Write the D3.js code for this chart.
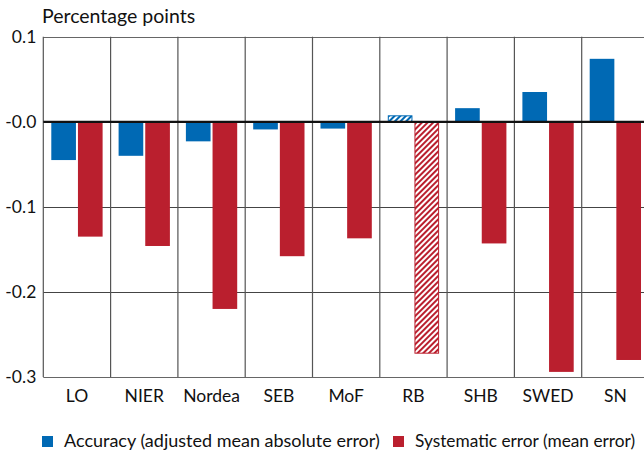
<!DOCTYPE html>
<html><head><meta charset="utf-8">
<script src="https://cdn.jsdelivr.net/npm/d3@7"></script>
<style>
html,body{margin:0;padding:0;background:#fff;}
svg{display:block;font-family:Lato,"Open Sans",sans-serif;}
</style></head>
<body>
<svg id="chart" width="644" height="452"></svg>
<script>
const categories = ["LO","NIER","Nordea","SEB","MoF","RB","SHB","SWED","SN"];
const accuracy = [-0.045,-0.040,-0.023,-0.009,-0.008,0.007,0.016,0.035,0.074];
const systematic = [-0.135,-0.146,-0.220,-0.158,-0.137,-0.272,-0.143,-0.294,-0.280];
const hatched = ["RB"];
const seriesNames = ["Accuracy (adjusted mean absolute error)","Systematic error (mean error)"];
const seriesColors = ["#0069b4","#ba1f2e"];
const yTickValues = [0.1,0,-0.1,-0.2,-0.3];
const yTickLabels = ["0.1","-0.0","-0.1","-0.2","-0.3"];
const yUnit = "Percentage points";

(function(){
const svg = d3.select("#chart");
const pLeft = 43.3, pRight = 649, pTop = 36.7, pBottom = 377;

const x = d3.scaleBand().domain(categories).range([pLeft, pRight]).padding(0);
const keys = ["acc","sys"];
const x1 = d3.scaleBand().domain(keys).range([0, x.bandwidth()]).paddingInner(0.075).paddingOuter(0.3);
const y = d3.scaleLinear().domain([-0.3, 0.1]).range([pBottom, pTop]);

const defs = svg.append("defs");
function hatch(id, color){
  const p = defs.append("pattern").attr("id", id).attr("patternUnits","userSpaceOnUse")
    .attr("width",4).attr("height",4).attr("patternTransform","rotate(45)");
  p.append("rect").attr("width",4).attr("height",4).attr("fill","#fff");
  p.append("rect").attr("width",2).attr("height",4).attr("fill",color);
}
hatch("hb", seriesColors[0]);
hatch("hr", seriesColors[1]);

// horizontal grid
svg.append("g").selectAll("line").data(yTickValues.filter(v => v !== 0))
  .join("line")
  .attr("x1", pLeft).attr("x2", pRight)
  .attr("y1", d => Math.round(y(d)) + 0.5).attr("y2", d => Math.round(y(d)) + 0.5)
  .attr("stroke", d => (d === 0.1 || d === -0.3) ? "#666" : "#444").attr("stroke-width", 1.2);

// vertical separators
svg.append("g").selectAll("line").data(categories)
  .join("line")
  .attr("x1", d => x(d)).attr("x2", d => x(d))
  .attr("y1", pTop).attr("y2", pBottom)
  .attr("stroke", "#555").attr("stroke-width", 1.2);

const data = categories.map((c,i) => ({c, acc: accuracy[i], sys: systematic[i]}));

const g = svg.append("g");
data.forEach(d => {
  keys.forEach((k, j) => {
    const v = d[k];
    const isH = hatched.includes(d.c);
    const y0 = y(Math.max(0, v)), y1v = y(Math.min(0, v));
    g.append("rect")
      .attr("x", x(d.c) + x1(k) + (isH ? 0.5 : 0))
      .attr("y", y0)
      .attr("width", x1.bandwidth() - (isH ? 1 : 0))
      .attr("height", y1v - y0)
      .attr("fill", isH ? (j === 0 ? "url(#hb)" : "url(#hr)") : seriesColors[j])
      .attr("stroke", isH ? seriesColors[j] : "none")
      .attr("stroke-width", isH ? 1 : 0);
  });
});

// zero line
svg.append("line").attr("x1", pLeft).attr("x2", pRight)
  .attr("y1", y(0)).attr("y2", y(0)).attr("stroke", "#111").attr("stroke-width", 2.2);

// y axis labels
const yAxis = d3.axisLeft(y).tickValues(yTickValues)
  .tickFormat((d,i) => yTickLabels[i]).tickSize(0).tickPadding(7);
const ya = svg.append("g").attr("transform", `translate(${pLeft},0)`).call(yAxis);
ya.select(".domain").remove();
ya.selectAll("text").attr("font-family","Lato,sans-serif").attr("font-size",17.5).attr("fill","#111");

// x axis labels
const xAxis = d3.axisBottom(x).tickSize(0).tickPadding(13);
const xa = svg.append("g").attr("transform", `translate(0,${pBottom})`).call(xAxis);
xa.select(".domain").remove();
xa.selectAll("text").attr("font-family","Lato,sans-serif").attr("font-size",17.5).attr("fill","#111");

// unit label
svg.append("text").attr("x", 42).attr("y", 23).attr("font-size", 19.5).attr("fill","#111").text(yUnit);

// legend
const legX = [42, 393];
const legFont = [18, 17.3];
seriesNames.forEach((n, i) => {
  svg.append("rect").attr("x", legX[i]).attr("y", 436).attr("width", 11).attr("height", 11).attr("fill", seriesColors[i]);
  svg.append("text").attr("x", legX[i] + 22).attr("y", 447).attr("font-size", legFont[i]).attr("fill","#111").text(n);
});
})();
</script>
</body></html>
